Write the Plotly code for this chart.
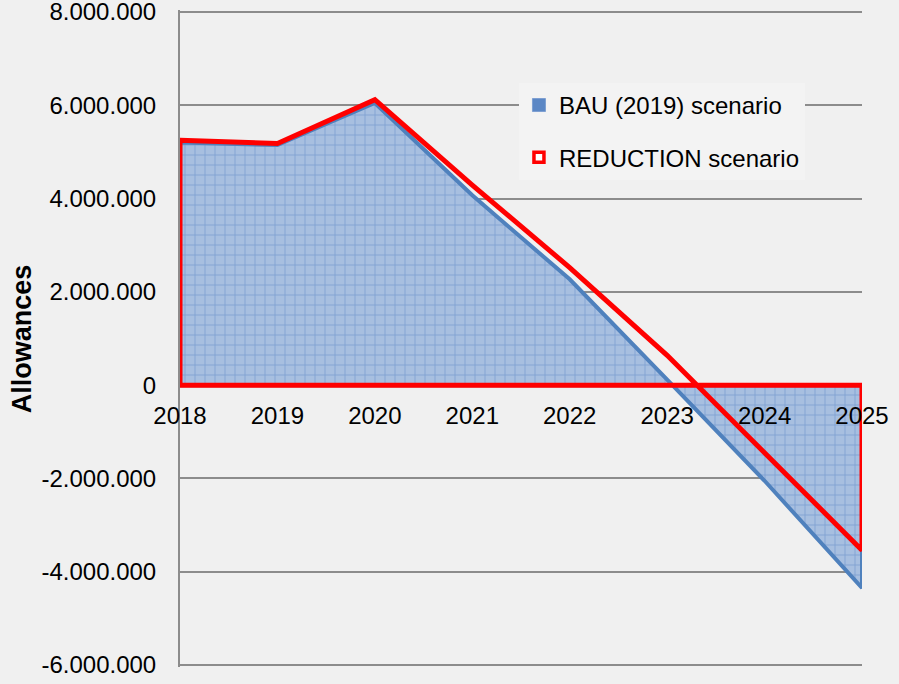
import plotly.graph_objects as go

# Annual allowance balance under two scenarios
years = [2018, 2019, 2020, 2021, 2022, 2023, 2024, 2025]
bau_2019 = [5200000, 5150000, 6050000, 4070000, 2270000, 120000, -2050000, -4350000]
reduction = [5250000, 5180000, 6120000, 4290000, 2520000, 640000, -1450000, -3540000]

y_min, y_max, y_step = -6000000, 8000000, 2000000
tick_vals = list(range(y_min, y_max + 1, y_step))
# European style thousands separator, plain hyphen for negatives
tick_text = [f"{v:,}".replace(",", ".") for v in tick_vals]
baseline = 0

# small headroom so the outermost grid lines are drawn
pad = 43000
r_lo, r_hi = y_min - pad, y_max + pad


def closed_area(xs, ys):
    """Outline of an area drawn down to the baseline, closed along it."""
    px = [xs[0]] + xs + [xs[-1], xs[0]]
    py = [baseline] + ys + [baseline, baseline]
    return px, py


bau_x, bau_y = closed_area(years, bau_2019)
red_x, red_y = closed_area(years, reduction)

fig = go.Figure()

fig.add_trace(go.Scatter(
    x=bau_x, y=bau_y,
    name="BAU (2019) scenario",
    mode="lines",
    fill="toself",
    fillcolor="#a8bfe0",
    fillpattern=dict(shape="+", fgcolor="#5a87c6", bgcolor="#a7bfe0",
                     size=10, solidity=0.18),
    line=dict(color="#4f81bd", width=4),
    showlegend=False,
    hoverinfo="skip",
))

fig.add_trace(go.Scatter(
    x=red_x, y=red_y,
    name="REDUCTION scenario",
    mode="lines",
    line=dict(color="#ff0000", width=5),
    showlegend=False,
    hoverinfo="skip",
))

# legend keys: small squares
fig.add_trace(go.Scatter(
    x=[None], y=[None], mode="markers",
    name="BAU (2019) scenario",
    marker=dict(symbol="square", size=13, color="#5b87c5",
                line=dict(color="#7d9fd2", width=1)),
    legendgroup="bau",
))
fig.add_trace(go.Scatter(
    x=[None], y=[None], mode="markers",
    name="REDUCTION scenario",
    marker=dict(symbol="square", size=10, color="#ffffff",
                line=dict(color="#ff0000", width=3.5)),
    legendgroup="red",
))

# x axis crosses the value axis at zero
zero_pos = (baseline - r_lo) / (r_hi - r_lo)

fig.update_layout(
    width=899, height=684,
    margin=dict(l=180, r=37, t=10, b=17),
    paper_bgcolor="#f0f0f0",
    plot_bgcolor="#f0f0f0",
    font=dict(family="Liberation Sans, Arial, sans-serif", size=24, color="#000000"),
    showlegend=True,
    legend=dict(
        x=0.497, y=0.889, xanchor="left", yanchor="top",
        bgcolor="#f3f3f3",
        font=dict(size=24),
        tracegroupgap=18,
        itemwidth=30,
    ),
    xaxis=dict(
        range=[years[0], years[-1]],
        tickvals=years,
        ticktext=[str(y) for y in years],
        showgrid=False,
        zeroline=False,
        showline=False,
        anchor="free",
        position=zero_pos,
        ticks="",
        ticklabelstandoff=14,
        tickfont=dict(size=24),
        automargin=False,
    ),
    yaxis=dict(
        range=[r_lo, r_hi],
        tickvals=tick_vals,
        ticktext=tick_text,
        showgrid=True,
        gridcolor="#8c8c8c",
        gridwidth=1.5,
        zeroline=False,
        showline=True,
        linecolor="#8c8c8c",
        linewidth=2,
        ticks="",
        ticklabelstandoff=17,
        ticklabeloverflow="allow",
        tickfont=dict(size=24),
        automargin=False,
    ),
    annotations=[dict(
        text="<b>Allowances</b>",
        xref="paper", yref="paper",
        x=-0.232, y=0.5, xanchor="center", yanchor="middle",
        textangle=-90, showarrow=False,
        font=dict(size=27),
    )],
)

fig.write_html("out.html")
